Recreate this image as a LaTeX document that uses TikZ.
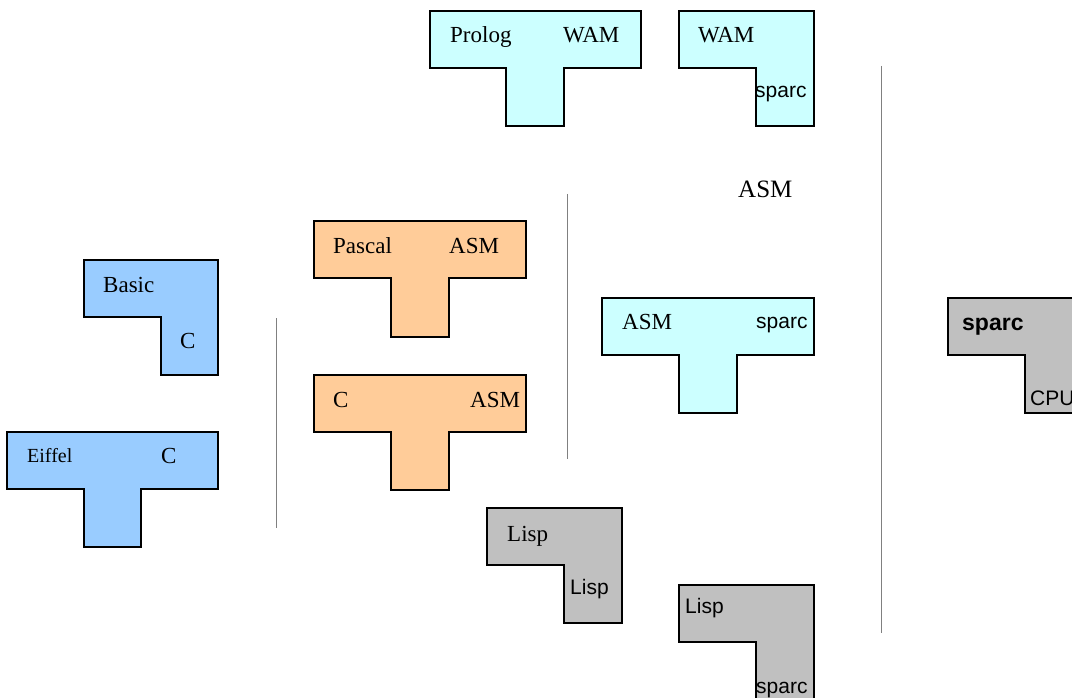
\documentclass[tikz,border=0pt]{standalone}
\usepackage{fontspec}
\setmainfont{Liberation Serif}
\setsansfont{Liberation Sans}
\definecolor{cyanfill}{HTML}{CCFFFF}
\definecolor{bluefill}{HTML}{99CCFF}
\definecolor{orangefill}{HTML}{FFCC99}
\definecolor{grayfill}{HTML}{C0C0C0}
\definecolor{sepline}{HTML}{808080}
\begin{document}
\begin{tikzpicture}[x=1pt,y=-1pt,
  piece/.style={draw=black,line width=1.5pt,line join=miter},
  sep/.style={draw=sepline,line width=1pt},
  rm/.style={anchor=base west,inner sep=0pt,font=\fontsize{23}{26}\selectfont},
  rmsmall/.style={anchor=base west,inner sep=0pt,font=\fontsize{20}{23}\selectfont},
  rmbig/.style={anchor=base west,inner sep=0pt,font=\fontsize{25}{28}\selectfont},
  sf/.style={anchor=base west,inner sep=0pt,font=\sffamily\fontsize{21}{24}\selectfont},
  sfbold/.style={anchor=base west,inner sep=0pt,font=\sffamily\bfseries\fontsize{23}{26}\selectfont}]
\useasboundingbox (0,0) rectangle (1072,698);

% T-diagram: compiler Prolog -> WAM
\path[piece,fill=cyanfill] (430,11) -- (641,11) -- (641,68) -- (564,68) -- (564,126)
  -- (506,126) -- (506,68) -- (430,68) -- cycle;
\node[rm] (prolog) at (450,43) {Prolog};
\node[rm] (wam1) at (563,43) {WAM};

% L-diagram: WAM interpreter on sparc
\path[piece,fill=cyanfill] (679,11) -- (814,11) -- (814,126) -- (756,126) -- (756,68)
  -- (679,68) -- cycle;
\node[rm] (wam2) at (698,43) {WAM};
\node[sf] (sparc1) at (755,98) {sparc};

% L-diagram: Basic interpreter in C
\path[piece,fill=bluefill] (84,260) -- (218,260) -- (218,375) -- (161,375) -- (161,317)
  -- (84,317) -- cycle;
\node[rm] (basic) at (103,292) {Basic};
\node[rm] (c1) at (180,348) {C};

% T-diagram: Eiffel -> C
\path[piece,fill=bluefill] (7,432) -- (218,432) -- (218,489) -- (141,489) -- (141,547)
  -- (84,547) -- (84,489) -- (7,489) -- cycle;
\node[rmsmall] (eiffel) at (27,462) {Eiffel};
\node[rm] (c2) at (161,463) {C};

% T-diagram: Pascal -> ASM
\path[piece,fill=orangefill] (314,221) -- (526,221) -- (526,278) -- (449,278) -- (449,337)
  -- (391,337) -- (391,278) -- (314,278) -- cycle;
\node[rm] (pascal) at (333,254) {Pascal};
\node[rm] (asm1) at (449,254) {ASM};

% T-diagram: C -> ASM
\path[piece,fill=orangefill] (314,375) -- (526,375) -- (526,432) -- (449,432) -- (449,490)
  -- (391,490) -- (391,432) -- (314,432) -- cycle;
\node[rm] (c3) at (333,407) {C};
\node[rm] (asm2) at (470,407) {ASM};

% free label
\node[rmbig] (asm3) at (738,198) {ASM};

% T-diagram: ASM -> sparc
\path[piece,fill=cyanfill] (602,298) -- (814,298) -- (814,355) -- (737,355) -- (737,413)
  -- (679,413) -- (679,355) -- (602,355) -- cycle;
\node[rm] (asm4) at (622,329) {ASM};
\node[sf] (sparc2) at (756,328) {sparc};

% L-diagram: sparc on CPU
\path[piece,fill=grayfill] (948,298) -- (1085,298) -- (1085,413) -- (1025,413) -- (1025,355)
  -- (948,355) -- cycle;
\node[sfbold] (sparc3) at (962,330) {sparc};
\node[sf] (cpu) at (1030,405) {CPU};

% L-diagram: Lisp interpreter in Lisp
\path[piece,fill=grayfill] (487,508) -- (622,508) -- (622,623) -- (564,623) -- (564,565)
  -- (487,565) -- cycle;
\node[rm] (lisp1) at (507,541) {Lisp};
\node[sf] (lisp2) at (570,594) {Lisp};

% L-diagram: Lisp interpreter on sparc
\path[piece,fill=grayfill] (679,585) -- (814,585) -- (814,702) -- (756,702) -- (756,642)
  -- (679,642) -- cycle;
\node[sf] (lisp3) at (685,613) {Lisp};
\node[sf] (sparc4) at (756,693) {sparc};

% separators
\draw[sep] (276,318) -- (276,528);
\draw[sep] (567,194) -- (567,459);
\draw[sep] (881,66) -- (881,633);
\end{tikzpicture}
\end{document}
